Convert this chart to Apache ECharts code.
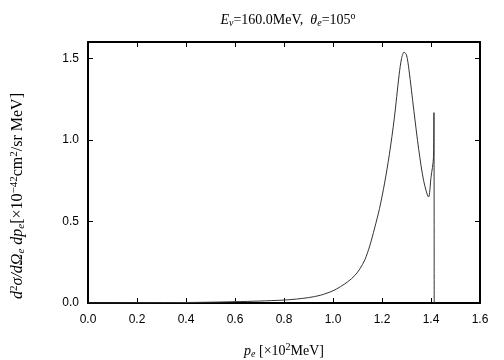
<!DOCTYPE html>
<html>
<head>
<meta charset="utf-8">
<script src="https://cdn.jsdelivr.net/npm/echarts@6/dist/echarts.min.js"></script>
<style>
  html, body { margin: 0; padding: 0; background: #fff; }
  #chart { width: 504px; height: 360px; }
</style>
</head>
<body>
<div id="chart"></div>
<script>
// electron momentum p_e [x10^2 MeV]
var momentum = [0.0, 0.1, 0.2, 0.3, 0.4, 0.5, 0.6, 0.7, 0.8, 0.85, 0.9, 0.95, 1.0, 1.03, 1.06, 1.09,
  1.11, 1.13, 1.15, 1.17, 1.19, 1.21, 1.23, 1.25, 1.27, 1.28, 1.29, 1.30, 1.31, 1.33, 1.35, 1.37,
  1.39, 1.40, 1.41, 1.412, 1.413];
// cross section d2sigma/dOmega dp [x10^-42 cm2/sr MeV]
var crossSection = [0.0, 0.0, 0.001, 0.002, 0.003, 0.005, 0.008, 0.012, 0.018, 0.024, 0.033, 0.048, 0.075, 0.1, 0.13, 0.17,
  0.21, 0.265, 0.35, 0.46, 0.58, 0.73, 0.91, 1.13, 1.40, 1.50, 1.538, 1.52, 1.43, 1.18, 0.94, 0.75,
  0.65, 0.77, 0.89, 1.167, 0.0];
var xTicks = [0.0, 0.2, 0.4, 0.6, 0.8, 1.0, 1.2, 1.4, 1.6];
var yTicks = [0.0, 0.5, 1.0, 1.5];

var chart = echarts.init(document.getElementById('chart'));

var sans = 'Liberation Sans';
var serif = 'Liberation Serif';

var pts = [];
for (var i = 0; i < momentum.length; i++) {
  pts.push([momentum[i], crossSection[i]]);
}

function fmtX(v) {
  for (var k = 0; k < xTicks.length; k++) {
    if (Math.abs(v - xTicks[k]) < 1e-6) return xTicks[k].toFixed(1);
  }
  return '';
}
function fmtY(v) {
  for (var k = 0; k < yTicks.length; k++) {
    if (Math.abs(v - yTicks[k]) < 1e-6) return yTicks[k].toFixed(1);
  }
  return '';
}

// rich text styles for the serif math labels
function mathRich(size, key) {
  var c = {};
  c[key] = '#000';
  var small = Math.round(size * 0.68);
  return {
    n: Object.assign({ fontFamily: serif, fontSize: size, fontWeight: 'normal', lineHeight: size + 6 }, c),
    i: Object.assign({ fontFamily: serif, fontSize: size, fontStyle: 'italic', fontWeight: 'normal', lineHeight: size + 6 }, c),
    s: Object.assign({ fontFamily: serif, fontSize: small, fontStyle: 'italic', fontWeight: 'normal', lineHeight: size + 6, padding: [7, 0, 0, 0] }, c),
    sup: Object.assign({ fontFamily: serif, fontSize: small, fontWeight: 'normal', lineHeight: size + 6, padding: [0, 0, 7, 0] }, c)
  };
}

var axisLine = { show: true, onZero: false, lineStyle: { color: '#000', width: 2 } };
var tick = { show: true, inside: true, length: 5, lineStyle: { color: '#000', width: 1 } };

var option = {
  animation: false,
  backgroundColor: '#fff',
  title: {
    text: '{i|E}{s|ν}{n|=160.0MeV,  }{i|θ}{s|e}{n|=105}{sup|o}',
    left: 283,
    textAlign: 'center',
    top: 5,
    textStyle: { fontWeight: 'normal', rich: mathRich(14, 'color') }
  },
  grid: { left: 88, right: 24, top: 42, bottom: 57, show: false, outerBoundsMode: 'none', containLabel: false },
  xAxis: [{
    type: 'value',
    min: 0, max: 1.6, interval: 0.2,
    name: '{i|p}{s|e}{n| [×10}{sup|2}{n|MeV]}',
    nameLocation: 'middle',
    nameGap: 38,
    nameTextStyle: { rich: mathRich(14, 'color') },
    axisLine: axisLine,
    axisTick: tick,
    splitLine: { show: false },
    axisLabel: { formatter: fmtX, fontFamily: sans, fontSize: 12, color: '#000', margin: 11 }
  }, {
    type: 'value',
    position: 'top',
    min: 0, max: 1.6, interval: 0.2,
    axisLine: axisLine,
    axisTick: tick,
    splitLine: { show: false },
    axisLabel: { show: false }
  }],
  yAxis: [{
    type: 'value',
    min: 0, max: 1.6, interval: 0.5,
    axisLine: axisLine,
    axisTick: tick,
    splitLine: { show: false },
    axisLabel: { formatter: fmtY, fontFamily: sans, fontSize: 12, color: '#000', margin: 9 }
  }, {
    type: 'value',
    position: 'right',
    min: 0, max: 1.6, interval: 0.5,
    axisLine: axisLine,
    axisTick: tick,
    splitLine: { show: false },
    axisLabel: { show: false }
  }],
  graphic: [{
    type: 'text',
    x: 18,
    y: 196,
    rotation: Math.PI / 2,
    style: {
      text: '{i|d}{sup|2}{i|σ/dΩ}{s|e}{i| dp}{s|e}{n|[×10}{sup|−42}{n|cm}{sup|2}{n|/sr MeV]}',
      align: 'center',
      verticalAlign: 'middle',
      rich: mathRich(16, 'fill')
    }
  }],
  series: [{
    type: 'line',
    data: pts,
    showSymbol: false,
    smooth: 0.3,
    lineStyle: { color: '#333', width: 1 },
    clip: true
  }]
};

chart.setOption(option);
</script>
</body>
</html>
